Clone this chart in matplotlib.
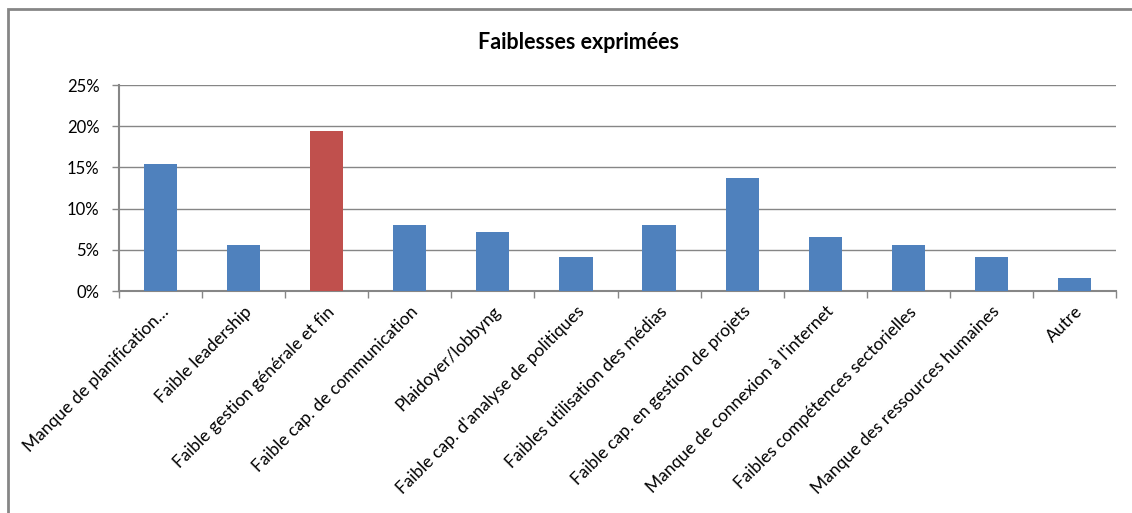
import matplotlib
matplotlib.use("Agg")
from matplotlib import pyplot as plt
from matplotlib.patches import Rectangle
from matplotlib.ticker import PercentFormatter, FixedLocator

categories = [
    "Manque de planification…",
    "Faible leadership",
    "Faible gestion générale et fin",
    "Faible cap. de communication",
    "Plaidoyer/lobbyng",
    "Faible cap. d'analyse de politiques",
    "Faibles utilisation des médias",
    "Faible cap. en gestion de projets",
    "Manque de connexion à l'internet",
    "Faibles compétences sectorielles",
    "Manque des ressources humaines",
    "Autre",
]
values = [15.4, 5.6, 19.4, 8.0, 7.2, 4.1, 8.0, 13.7, 6.6, 5.6, 4.1, 1.6]
highlight = 2

blue = "#4F81BD"
red = "#C0504D"
gray = "#868686"

plt.rcParams['font.family'] = ['Lato', 'DejaVu Sans']

fig = plt.figure(figsize=(11.32, 5.13), dpi=100)
ax = fig.add_axes([119 / 1132, 1 - 291 / 513, (1116 - 119) / 1132, (291 - 85) / 513])

colors = [red if i == highlight else blue for i in range(len(values))]
x = list(range(len(values)))
ax.bar(x, values, width=0.4, color=colors, zorder=3)

ax.set_ylim(0, 25)
ax.set_xlim(-0.5, len(values) - 0.5)
ax.yaxis.set_major_formatter(PercentFormatter(decimals=0))
ax.set_yticks([0, 5, 10, 15, 20, 25])
ax.grid(axis='y', color=gray, linewidth=1, zorder=0)

ax.set_xticks(x)
ax.set_xticklabels(categories, rotation=45, ha='right', va='top',
                   rotation_mode='anchor', fontsize=12.5)
ax.tick_params(axis='x', which='major', length=0, pad=9)
ax.xaxis.set_minor_locator(FixedLocator([i - 0.5 for i in range(len(values) + 1)]))
ax.tick_params(axis='x', which='minor', length=5, color=gray, width=1)
ax.tick_params(axis='y', length=5, color=gray, width=1, labelsize=12, pad=9)

for side in ['top', 'right']:
    ax.spines[side].set_visible(False)
for side in ['left', 'bottom']:
    ax.spines[side].set_color(gray)
    ax.spines[side].set_linewidth(1.5)

fig.text(578 / 1132, 1 - 43 / 513, "Faiblesses exprimées", ha='center', va='center',
         fontsize=15.5, fontweight='bold')

# outer chart frame (only left and top edges visible in the crop)
fig.patches.append(Rectangle((8 / 1132, -0.1), 1.2, 1 - 9 / 513 + 0.1,
                             transform=fig.transFigure, fill=False,
                             edgecolor=gray, linewidth=2))

fig.savefig("out.png", dpi=100)
